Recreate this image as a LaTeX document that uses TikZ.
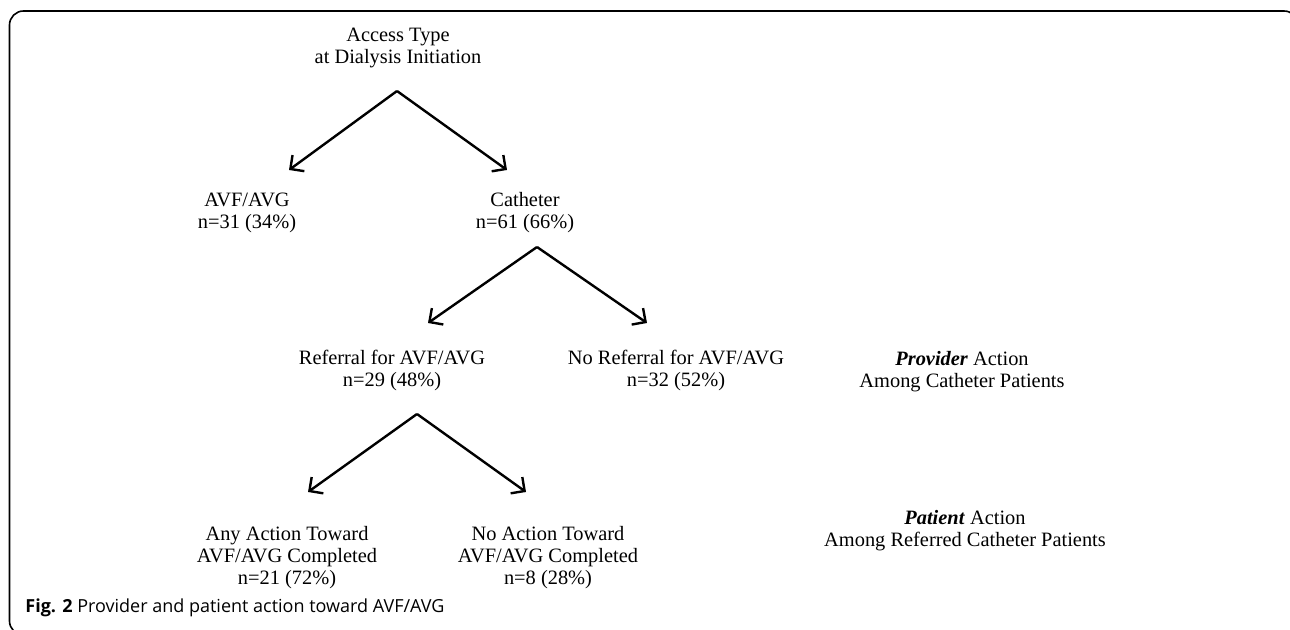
\documentclass[tikz,border=0pt]{standalone}
\usepackage{fontspec}
\setmainfont{Liberation Serif}
\newfontfamily\capfont{Open Sans}
\usetikzlibrary{arrows.meta, positioning}

\begin{document}
\begin{tikzpicture}[
  x=0.5pt, y=-0.5pt,
  font=\fontsize{10.2pt}{11pt}\selectfont,
  lbl/.style={align=center, inner sep=0pt, anchor=north},
  arr/.style={-{Straight Barb[length=5pt, width=10pt]}, line width=1.2pt},
  frame/.style={draw, line width=0.8pt, rounded corners=7pt}
]
  \useasboundingbox (0,0) rectangle (1290,630);
  \begin{scope}
    \clip (0,0) rectangle (1290,630);
    \path[frame] (9.5,11) rectangle (1298,635);
  \end{scope}

  % tree labels
  \node[lbl] (access) at (398,28) {Access Type\\at Dialysis Initiation};
  \node[lbl] (avf) at (247,193) {AVF/AVG\\n=31 (34\%)};
  \node[lbl] (cath) at (525,192) {Catheter\\n=61 (66\%)};
  \node[lbl] (ref) at (392,350) {Referral for AVF/AVG\\n=29 (48\%)};
  \node[lbl] (noref) at (676,350) {No Referral for AVF/AVG\\n=32 (52\%)};
  \node[lbl] (any) at (287,526) {Any Action Toward\\AVF/AVG Completed\\n=21 (72\%)};
  \node[lbl] (noact) at (548,526) {No Action Toward\\AVF/AVG Completed\\n=8 (28\%)};

  % side notes
  \node[lbl] (prov) at (962,351) {\textbf{\textit{Provider}} Action\\Among Catheter Patients};
  \node[lbl] (pat) at (965,510) {\textbf{\textit{Patient}} Action\\Among Referred Catheter Patients};

  % split points
  \coordinate (s1) at (397,91);
  \coordinate (s1l) at (289,170);
  \coordinate (s1r) at (507,170);
  \coordinate (s2) at (537,247);
  \coordinate (s2l) at (428,323);
  \coordinate (s2r) at (647,323);
  \coordinate (s3) at (417,414);
  \coordinate (s3l) at (308,492);
  \coordinate (s3r) at (526,492);

  \draw[arr] (s1) -- (s1l);
  \draw[arr] (s1) -- (s1r);
  \draw[arr] (s2) -- (s2l);
  \draw[arr] (s2) -- (s2r);
  \draw[arr] (s3) -- (s3l);
  \draw[arr] (s3) -- (s3r);

  \node[anchor=base west, inner sep=0pt, font=\capfont\fontsize{9pt}{10pt}\selectfont] (cap) at (25,612) {\textbf{Fig. 2} Provider and patient action toward AVF/AVG};
\end{tikzpicture}
\end{document}
